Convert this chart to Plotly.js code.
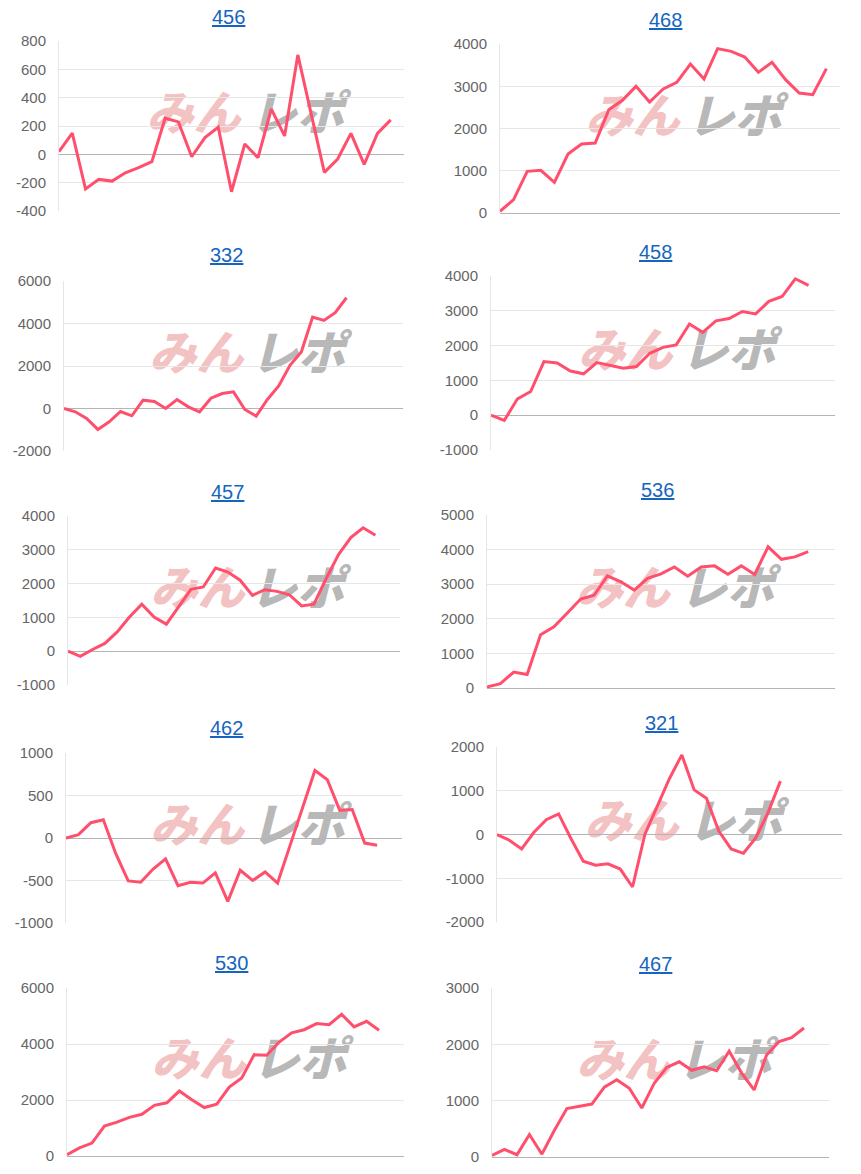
<!DOCTYPE html>
<html>
<head>
<meta charset="utf-8">
<script src="https://cdn.plot.ly/plotly-3.0.1.min.js"></script>
<style>
  html, body { margin: 0; padding: 0; background: #fff; }
  #chart { width: 861px; height: 1174px; }
</style>
</head>
<body>
<div id="chart"></div>
<script>
// ---- data ----
const titles = ['456', '468', '332', '458', '457', '536', '462', '321', '530', '467'];
const labelCounts = [27, 26, 31, 27, 28, 27, 28, 29, 28, 28];

const s456 = [20, 150, -245, -177, -189, -130, -94, -52, 255, 229, -17, 118, 191, -264, 73, -24, 320, 130, 702, 288, -127, -33, 148, -71, 148, 243];
const s468 = [40, 315, 986, 1010, 726, 1396, 1633, 1657, 2446, 2667, 2998, 2627, 2935, 3092, 3526, 3172, 3890, 3826, 3692, 3329, 3566, 3156, 2840, 2800, 3416];
const s332 = [0, -156, -470, -986, -626, -141, -344, 391, 329, 0, 423, 78, -156, 485, 704, 782, -47, -360, 423, 1064, 2034, 2660, 4304, 4147, 4507, 5211];
const s458 = [0, -150, 470, 680, 1540, 1500, 1270, 1190, 1510, 1420, 1350, 1400, 1780, 1950, 2020, 2620, 2380, 2710, 2780, 2980, 2910, 3270, 3410, 3920, 3730];
const s457 = [0, -150, 50, 230, 570, 1010, 1390, 1010, 800, 1310, 1830, 1900, 2460, 2340, 2100, 1650, 1820, 1770, 1670, 1340, 1390, 2150, 2860, 3360, 3650, 3430];
const s536 = [30, 125, 460, 390, 1540, 1770, 2170, 2570, 2680, 3240, 3070, 2830, 3170, 3300, 3500, 3230, 3500, 3530, 3290, 3530, 3280, 4080, 3720, 3790, 3940];
const s462 = [0, 40, 180, 215, -185, -505, -520, -365, -245, -560, -520, -530, -410, -745, -380, -500, -400, -530, -90, 350, 795, 685, 325, 335, -60, -85];
const s321 = [0, -130, -330, 50, 340, 470, -90, -610, -700, -670, -790, -1200, 0, 640, 1280, 1820, 1020, 830, 80, -330, -430, -80, 500, 1220];
const s530 = [50, 290, 460, 1070, 1210, 1380, 1490, 1810, 1900, 2320, 2010, 1730, 1850, 2460, 2790, 3620, 3600, 4070, 4400, 4510, 4730, 4690, 5060, 4610, 4810, 4490];
const s467 = [30, 135, 40, 400, 50, 475, 860, 900, 940, 1240, 1370, 1220, 870, 1310, 1590, 1690, 1540, 1600, 1530, 1880, 1490, 1190, 1810, 2050, 2120, 2290];

const seriesList = [s456, s468, s332, s458, s457, s536, s462, s321, s530, s467];
const yMins = [-400, 0, -2000, -1000, -1000, 0, -1000, -2000, 0, 0];
const yMaxs = [800, 4000, 6000, 4000, 4000, 5000, 1000, 2000, 6000, 3000];
const ySteps = [200, 1000, 2000, 1000, 1000, 1000, 500, 1000, 2000, 1000];

// ---- layout (pixel boxes: left, right, top, bottom, titleX, titleY) ----
const W = 861, H = 1174;
const boxes = [
  [59, 404, 41, 211, 228, 17],
  [500, 840, 44, 213, 665, 20],
  [64, 403, 281, 451, 226, 255],
  [491, 835, 276, 450, 655, 252],
  [68, 400, 516, 685, 227, 492],
  [487, 835, 515, 688, 657, 490],
  [66, 402, 753, 923, 226, 728],
  [497, 842, 747, 922, 661, 723],
  [67, 404, 988, 1156, 231, 963],
  [492, 829, 988, 1157, 655, 964]
];

const lineColor = '#ff4f6d';
const tickFont = { family: 'Liberation Sans, Arial, sans-serif', size: 15, color: '#666666' };
const titleFont = { family: 'Liberation Sans, Arial, sans-serif', size: 20, color: '#1565c0' };
const wmFont = (color) => ({ family: 'Noto Sans CJK JP, sans-serif', size: 47, color: color, weight: 900, style: 'italic' });

const traces = [];
const layout = {
  width: W, height: H,
  margin: { l: 0, r: 0, t: 0, b: 0 },
  paper_bgcolor: '#ffffff', plot_bgcolor: 'rgba(0,0,0,0)',
  showlegend: false,
  annotations: [], shapes: []
};

for (let i = 0; i < 10; i++) {
  const n = i + 1;
  const xk = n === 1 ? 'xaxis' : 'xaxis' + n;
  const yk = n === 1 ? 'yaxis' : 'yaxis' + n;
  const [l, r, t, b, tx, ty] = boxes[i];
  const labels = [];
  for (let k = 0; k < labelCounts[i]; k++) labels.push(k);
  const ys = seriesList[i];

  const tv = [], tt = [];
  for (let v = yMins[i]; v <= yMaxs[i]; v += ySteps[i]) { tv.push(v); tt.push(String(v)); }

  layout[xk] = {
    domain: [l / W, r / W], anchor: 'y' + n,
    range: [0, labelCounts[i] - 1],
    showgrid: false, zeroline: false, showline: false,
    showticklabels: false, ticks: '', fixedrange: true
  };
  layout[yk] = {
    domain: [1 - b / H, 1 - t / H], anchor: 'x' + n,
    range: [yMins[i], yMaxs[i]], tickmode: 'array', tickvals: tv, ticktext: tt,
    showgrid: true, gridcolor: '#e6e6e6', gridwidth: 1,
    zeroline: true, zerolinecolor: '#b4b4b4', zerolinewidth: 1,
    showline: true, linecolor: '#e6e6e6', linewidth: 1,
    ticks: 'outside', ticklen: 9, tickcolor: 'rgba(0,0,0,0)',
    tickfont: tickFont, fixedrange: true
  };

  traces.push({
    type: 'scatter', mode: 'lines',
    x: labels.slice(0, ys.length), y: ys,
    xaxis: 'x' + n, yaxis: 'y' + n,
    line: { color: lineColor, width: 3, shape: 'linear' },
    hoverinfo: 'skip'
  });

  // title
  layout.annotations.push({
    xref: 'paper', yref: 'paper', x: tx / W, y: 1 - ty / H,
    xanchor: 'center', yanchor: 'middle', showarrow: false,
    text: '<span style="text-decoration:underline">' + titles[i] + '</span>',
    font: titleFont
  });

  // watermark (logo) below the line
  layout.shapes.push({
    type: 'rect', layer: 'below', xref: 'x' + n + ' domain', yref: 'y' + n + ' domain',
    x0: 0.20, x1: 0.58, y0: 0.42, y1: 0.68,
    line: { width: 0 }, fillcolor: 'rgba(0,0,0,0)',
    label: { text: 'みん', textposition: 'middle center', font: wmFont('rgba(236,160,160,0.65)') }
  });
  layout.shapes.push({
    type: 'rect', layer: 'below', xref: 'x' + n + ' domain', yref: 'y' + n + ' domain',
    x0: 0.50, x1: 0.88, y0: 0.42, y1: 0.68,
    line: { width: 0 }, fillcolor: 'rgba(0,0,0,0)',
    label: { text: 'レポ', textposition: 'middle center', font: wmFont('rgba(165,165,165,0.8)') }
  });
}

Plotly.newPlot('chart', traces, layout, { staticPlot: true, displayModeBar: false });
</script>
</body>
</html>
